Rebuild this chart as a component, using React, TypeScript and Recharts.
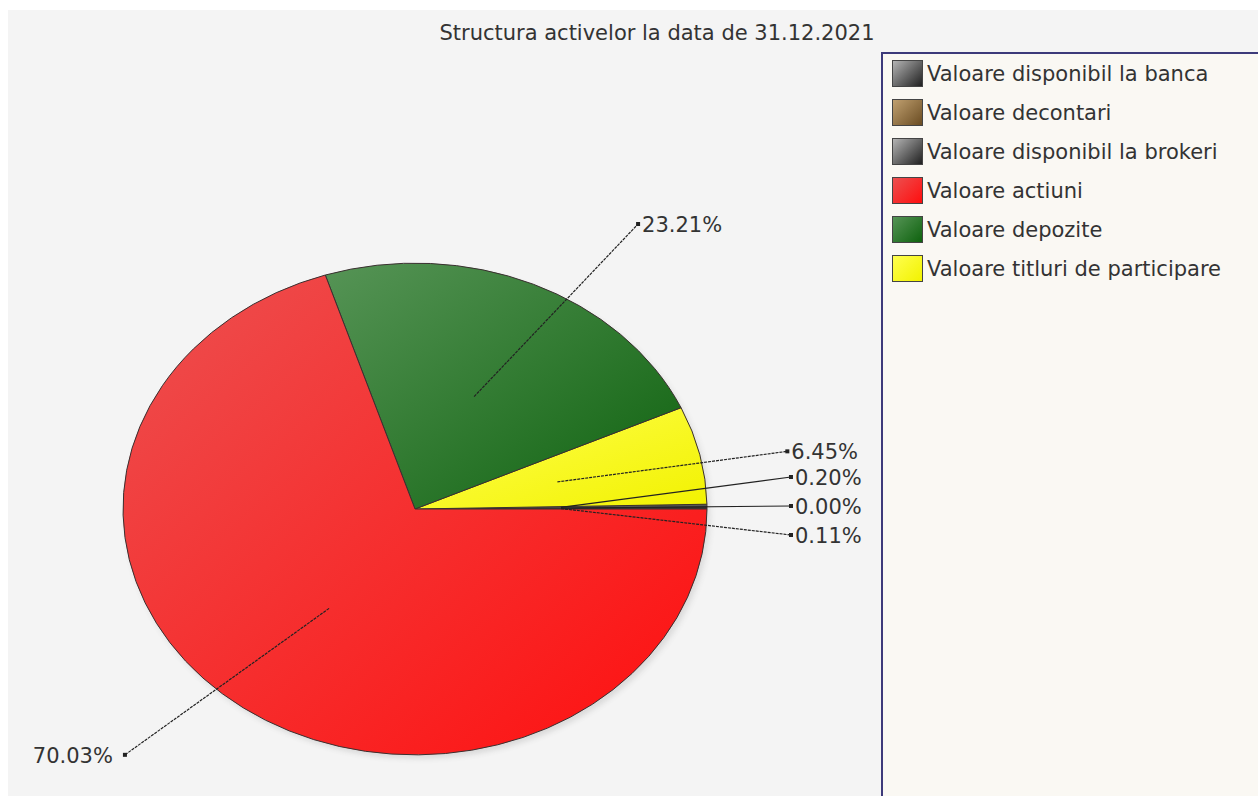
import React from "react";
import { PieChart, Pie, Cell, Legend } from "recharts";

const title = "Structura activelor la data de 31.12.2021";

// pie order (counter-clockwise from 3 o'clock)
const categories = [
  "Valoare disponibil la banca",
  "Valoare decontari",
  "Valoare disponibil la brokeri",
  "Valoare titluri de participare",
  "Valoare depozite",
  "Valoare actiuni",
];
const shares = [0.11, 0.0, 0.2, 6.45, 23.21, 70.03];

// order shown in the legend box
const legendOrder = [
  "Valoare disponibil la banca",
  "Valoare decontari",
  "Valoare disponibil la brokeri",
  "Valoare actiuni",
  "Valoare depozite",
  "Valoare titluri de participare",
];

const gradients: Record<string, [string, string]> = {
  "Valoare disponibil la banca": ["#b4b4b4", "#202020"],
  "Valoare decontari": ["#c0a070", "#6a4c22"],
  "Valoare disponibil la brokeri": ["#b4b4b4", "#202020"],
  "Valoare titluri de participare": ["#ffff50", "#f2f200"],
  "Valoare depozite": ["#569456", "#0e620e"],
  "Valoare actiuni": ["#ec5050", "#ff0e0e"],
};

// leader lines drawn solid, the rest dotted
const solidLeaders = ["Valoare decontari", "Valoare disponibil la brokeri"];

const data = categories.map((name, i) => ({ name, value: shares[i] }));

const W = 1250;
const H = 786;
const CX = 407;
const CY = 499;
const R = 292;
const SQUASH = 0.842; // pie is drawn as an ellipse
const RADIAN = Math.PI / 180;
const FONT = "'DejaVu Sans', Verdana, sans-serif";

// small slices get stacked labels on the right
const tinyIdx = shares.map((v, i) => (v < 1 ? i : -1)).filter(i => i >= 0);

const gid = (name: string) => "g-" + categories.indexOf(name);

const css = `
body { margin: 0; overflow: hidden; }
.main-pie .recharts-sector {
  transform-origin: ${CX}px ${CY}px;
  transform: scaleY(${SQUASH});
  vector-effect: non-scaling-stroke;
}
.shadow-pie .recharts-sector {
  transform-origin: ${CX + 3}px ${CY + 4}px;
  transform: scaleY(${SQUASH});
}
.shadow-pie { filter: blur(2px); opacity: 0.4; }
`;

const renderLabel = (props: any) => {
  const { cx, cy, midAngle, outerRadius, index, value, name } = props;
  const a = -midAngle * RADIAN;
  const cos = Math.cos(a);
  const sin = Math.sin(a);
  const x1 = cx + outerRadius * 0.5 * cos;
  const y1 = cy + outerRadius * 0.5 * sin * SQUASH;
  const ex = cx + outerRadius * cos;
  const ey = cy + outerRadius * sin * SQUASH;
  let x2: number;
  let y2: number;
  const t = tinyIdx.indexOf(index);
  if (t >= 0) {
    const rank = tinyIdx.length - 1 - t;
    x2 = ex + 84;
    y2 = cy + (rank - (tinyIdx.length - 1) / 2) * 29 - 3;
  } else {
    x2 = ex + Math.sign(cos) * (82 + 25 * Math.abs(sin) + (cos < 0 ? 16 : 0));
    y2 = ey + Math.sign(sin) * sin * sin * 72;
  }
  const right = cos >= 0;
  return (
    <g>
      <line
        x1={x1}
        y1={y1}
        x2={x2}
        y2={y2}
        stroke="#222"
        strokeWidth={1.2}
        strokeDasharray={solidLeaders.includes(name) ? undefined : "3 1"}
      />
      <rect x={x2 - 2} y={y2 - 2} width={4} height={4} fill="#222" />
      <text
        x={right ? x2 + 4 : x2 - 12}
        y={y2 + 1}
        textAnchor={right ? "start" : "end"}
        dominantBaseline="central"
        fontFamily={FONT}
        fontSize={21}
        fill="#333"
      >
        {Number(value).toFixed(2) + "%"}
      </text>
    </g>
  );
};

const renderLegend = () => (
  <div
    style={{
      width: 400,
      height: 760,
      boxSizing: "border-box",
      border: "2px solid #3d3a7a",
      background: "#faf8f3",
      paddingLeft: 9,
      fontFamily: FONT,
    }}
  >
    {legendOrder.map(name => {
      const [c0, c1] = gradients[name];
      return (
        <div key={name} style={{ display: "flex", alignItems: "center", height: 39 }}>
          <span
            style={{
              display: "inline-block",
              width: 31,
              height: 27,
              boxSizing: "border-box",
              border: "1px solid #444",
              background: `linear-gradient(135deg, ${c0}, ${c1})`,
            }}
          />
          <span style={{ marginLeft: 4, fontSize: 21, color: "#333", whiteSpace: "nowrap" }}>
            {name}
          </span>
        </div>
      );
    })}
  </div>
);

export default function App() {
  return (
    <div
      style={{
        position: "relative",
        marginLeft: 8,
        marginTop: 10,
        width: W,
        height: H,
        overflow: "hidden",
        background: "#f4f4f4",
      }}
    >
      <style>{css}</style>
      <svg width={0} height={0} style={{ position: "absolute" }}>
        <defs>
          {categories.map(name => (
            <linearGradient key={name} id={gid(name)} x1="0" y1="0" x2="1" y2="1">
              <stop offset="0%" stopColor={gradients[name][0]} />
              <stop offset="100%" stopColor={gradients[name][1]} />
            </linearGradient>
          ))}
        </defs>
      </svg>
      <div
        style={{
          position: "absolute",
          left: 649,
          top: 11,
          transform: "translateX(-50%)",
          whiteSpace: "nowrap",
          fontFamily: FONT,
          fontSize: 21,
          color: "#333",
          lineHeight: "24px",
          zIndex: 2,
        }}
      >
        {title}
      </div>
      <PieChart width={W} height={H} margin={{ top: 0, right: 0, bottom: 0, left: 0 }}>
        <Pie
          className="shadow-pie"
          data={data}
          dataKey="value"
          nameKey="name"
          cx={CX + 3}
          cy={CY + 4}
          outerRadius={R}
          startAngle={0}
          endAngle={360}
          stroke="none"
          fill="#555"
          legendType="none"
          label={false}
          labelLine={false}
          isAnimationActive={false}
        />
        <Pie
          className="main-pie"
          data={data}
          dataKey="value"
          nameKey="name"
          cx={CX}
          cy={CY}
          outerRadius={R}
          startAngle={0}
          endAngle={360}
          stroke="#3a3030"
          strokeWidth={1}
          label={renderLabel}
          labelLine={false}
          isAnimationActive={false}
        >
          {categories.map(name => (
            <Cell key={name} fill={`url(#${gid(name)})`} />
          ))}
        </Pie>
        <Legend
          layout="vertical"
          align="right"
          verticalAlign="top"
          content={renderLegend}
          wrapperStyle={{ left: 873, top: 42, width: 400, height: 760 }}
        />
      </PieChart>
    </div>
  );
}
